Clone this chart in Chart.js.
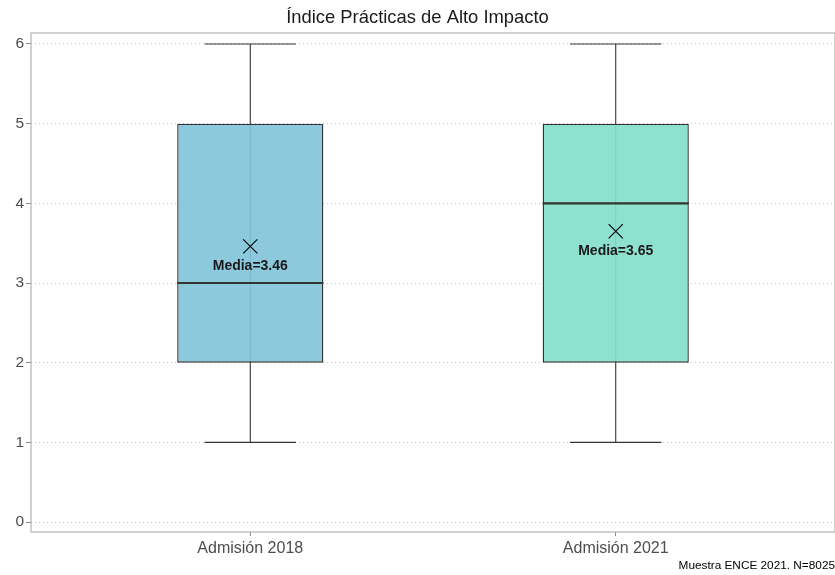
<!DOCTYPE html>
<html>
<head>
<meta charset="utf-8">
<script src="https://cdn.jsdelivr.net/npm/chart.js@4"></script>
<style>
  html, body { margin: 0; padding: 0; background: #fff; }
  #wrap { width: 835px; height: 575px; }
</style>
</head>
<body>
<div id="wrap"><canvas id="box_canvas" width="835" height="575"></canvas></div>
<script>
const categories = ['Admisión 2018', 'Admisión 2021'];
const positions = [1, 2];
const whiskerLow = [1, 1];
const q1 = [2, 2];
const medians = [3, 4];
const q3 = [5, 5];
const whiskerHigh = [6, 6];
const means = [3.46, 3.65];
const yTicks = [0, 1, 2, 3, 4, 5, 6];

const boxColors = ['rgba(130,196,218,0.92)', 'rgba(132,222,203,0.92)'];
const sans = "'Liberation Sans', Arial, sans-serif";

// whiskers, median lines, mean labels and panel border
const boxExtras = {
    id: 'boxExtras',
    beforeDatasetsDraw(chart) {
        const ctx = chart.ctx, xs = chart.scales.x, ys = chart.scales.y;
        ctx.save();
        ctx.strokeStyle = '#333';
        ctx.lineWidth = 1.1;
        positions.forEach((p, i) => {
            const x = xs.getPixelForValue(p);
            const half = xs.getPixelForValue(p + 0.125) - x;
            const yLo = ys.getPixelForValue(whiskerLow[i]);
            const yHi = ys.getPixelForValue(whiskerHigh[i]);
            ctx.beginPath();
            ctx.moveTo(x, yLo); ctx.lineTo(x, yHi);
            ctx.moveTo(x - half, yLo); ctx.lineTo(x + half, yLo);
            ctx.moveTo(x - half, yHi); ctx.lineTo(x + half, yHi);
            ctx.stroke();
        });
        ctx.restore();
    },
    afterDatasetsDraw(chart) {
        const ctx = chart.ctx, xs = chart.scales.x, ys = chart.scales.y;
        const a = chart.chartArea;
        ctx.save();
        ctx.strokeStyle = '#333';
        ctx.lineWidth = 2.2;
        positions.forEach((p, i) => {
            const x0 = xs.getPixelForValue(p - 0.2);
            const x1 = xs.getPixelForValue(p + 0.2);
            const y = ys.getPixelForValue(medians[i]);
            ctx.beginPath();
            ctx.moveTo(x0, y); ctx.lineTo(x1, y);
            ctx.stroke();
        });
        ctx.fillStyle = '#1a1a1a';
        ctx.font = "bold 14px " + sans;
        ctx.textAlign = 'center';
        ctx.textBaseline = 'middle';
        positions.forEach((p, i) => {
            const x = xs.getPixelForValue(p);
            const y = ys.getPixelForValue(means[i]) + 19.5;
            ctx.fillText('Media=' + means[i].toFixed(2), x, y);
        });
        ctx.strokeStyle = '#b3b3b3';
        ctx.lineWidth = 1.2;
        ctx.strokeRect(a.left, a.top, a.right - a.left, a.bottom - a.top);
        ctx.restore();
    }
};

const box = document.getElementById('box_canvas');

new Chart(box, {
    type: 'bar',
    data: {
        datasets: [{
            type: 'scatter',
            label: 'Media',
            data: positions.map((p, i) => ({ x: p, y: means[i] })),
            pointStyle: 'crossRot',
            pointRadius: 10,
            pointBorderWidth: 1.1,
            borderColor: '#000',
            backgroundColor: '#000'
        }, {
            label: 'Caja',
            data: positions.map((p, i) => ({ x: p, y: [q1[i], q3[i]] })),
            backgroundColor: boxColors,
            borderColor: '#333',
            borderWidth: 1.4,
            borderSkipped: false,
            categoryPercentage: 1,
            barPercentage: 0.4
        }]
    },
    options: {
        responsive: false,
        animation: false,
        layout: { autoPadding: false, padding: { left: 0, right: 0, top: 0, bottom: 0 } },
        plugins: {
            legend: { display: false },
            tooltip: { enabled: false },
            title: {
                display: true,
                text: 'Índice Prácticas de Alto Impacto',
                color: '#1a1a1a',
                font: { family: sans, size: 18.4, weight: 'normal' },
                padding: { top: 6.5, bottom: 4.4 }
            },
            subtitle: {
                display: true,
                position: 'bottom',
                align: 'end',
                text: 'Muestra ENCE 2021. N=8025',
                color: '#000',
                font: { family: sans, size: 11.8 },
                padding: { top: 0, bottom: 2 }
            }
        },
        scales: {
            x: {
                type: 'linear',
                min: 0.4,
                max: 2.6,
                offset: false,
                afterBuildTicks: axis => { axis.ticks = positions.map(v => ({ value: v })); },
                afterFit: axis => { axis.height = 26.8; },
                ticks: {
                    color: '#4d4d4d',
                    font: { family: sans, size: 16 },
                    padding: 3,
                    maxRotation: 0,
                    autoSkip: false,
                    callback: (v) => categories[positions.indexOf(v)]
                },
                grid: {
                    offset: false,
                    drawOnChartArea: false,
                    drawTicks: true,
                    tickLength: 4,
                    tickColor: '#8a8a8a'
                },
                border: { display: false }
            },
            y: {
                min: -0.1255,
                max: 6.138,
                afterBuildTicks: axis => { axis.ticks = yTicks.map(v => ({ value: v })); },
                afterFit: axis => { axis.width = 31; },
                ticks: {
                    color: '#4d4d4d',
                    font: { family: sans, size: 15.5 },
                    padding: 2
                },
                grid: {
                    color: '#c4c4c4',
                    tickBorderDash: [],
                    tickLength: 5,
                    tickColor: '#8a8a8a'
                },
                border: { display: false, dash: [1, 3] }
            }
        }
    },
    plugins: [boxExtras]
});
</script>
</body>
</html>
